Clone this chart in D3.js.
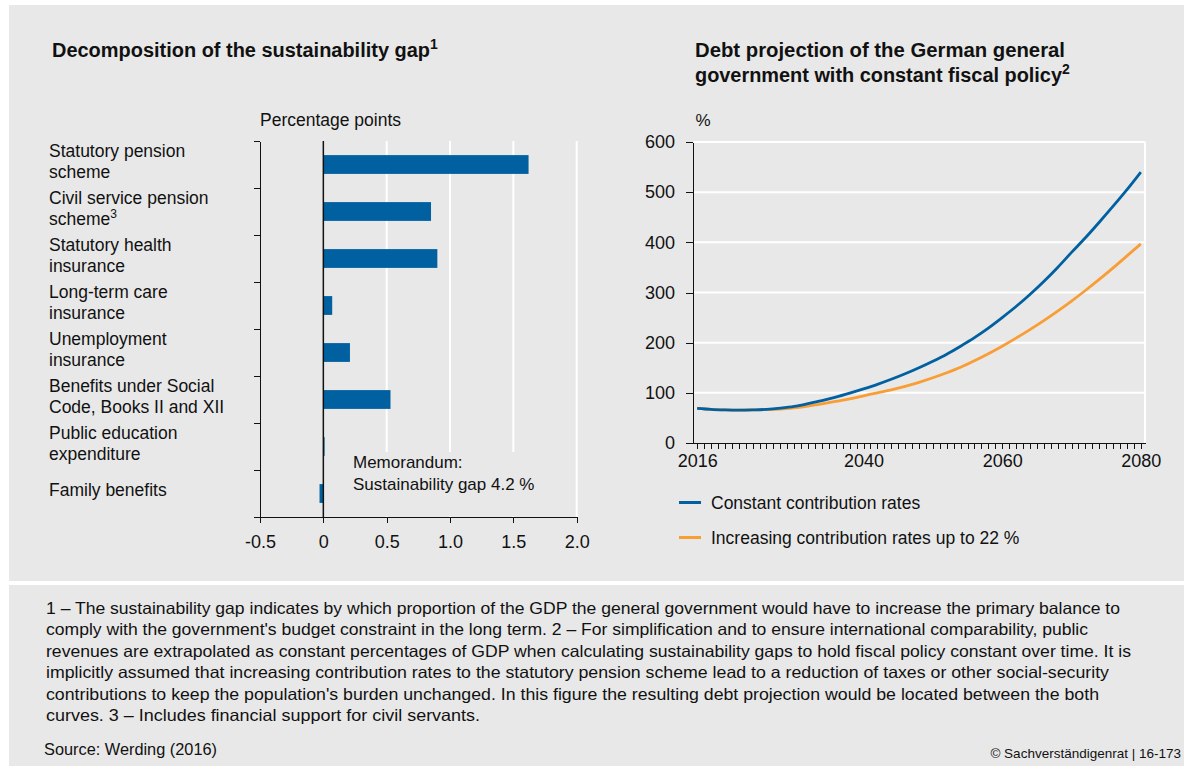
<!DOCTYPE html>
<html>
<head>
<meta charset="utf-8">
<script src="https://cdn.jsdelivr.net/npm/d3@7"></script>
<style>
  body { margin: 0; background: #fff; }
  svg { display: block; font-family: "Liberation Sans", Arial, sans-serif; }
  .axis path, .axis line { stroke: #111; shape-rendering: crispEdges; }
  .axis text { font-size: 18px; fill: #111; font-family: "Liberation Sans", Arial, sans-serif; }
</style>
</head>
<body>
<svg id="vis" width="1184" height="766"></svg>
<script>
// left panel: decomposition of the sustainability gap (percentage points)
var gapCategories = ["Statutory pension scheme", "Civil service pension scheme", "Statutory health insurance",
  "Long-term care insurance", "Unemployment insurance", "Benefits under Social Code, Books II and XII",
  "Public education expenditure", "Family benefits"];
var gapLabelLines = [["Statutory pension", "scheme"], ["Civil service pension", "scheme"], ["Statutory health", "insurance"],
  ["Long-term care", "insurance"], ["Unemployment", "insurance"], ["Benefits under Social", "Code, Books II and XII"],
  ["Public education", "expenditure"], ["Family benefits"]];
var gapLabelNotes = ["", "3", "", "", "", "", "", ""];
var gapValues = [1.62, 0.85, 0.90, 0.07, 0.21, 0.53, 0.01, -0.03];
var gapTicks = [-0.5, 0, 0.5, 1.0, 1.5, 2.0];
var gapTickLabels = ["-0.5", "0", "0.5", "1.0", "1.5", "2.0"];

// right panel: debt projection, % of GDP
var years = [2016, 2018, 2020, 2022, 2024, 2026, 2028, 2030, 2032, 2034, 2036, 2038, 2040, 2042, 2044, 2046,
  2048, 2050, 2052, 2054, 2056, 2058, 2060, 2062, 2064, 2066, 2068, 2070, 2072, 2074, 2076, 2078, 2080];
var debtConstant = [69, 67, 66, 65.5, 66, 67, 69.5, 73, 78.5, 84.5, 91.5, 99.5, 108, 117, 127, 138,
  150, 163, 177, 193, 210, 229, 250, 272, 296, 322, 350, 380, 409, 440, 472, 505, 540];
var debtIncreasing = [69, 67, 66, 65.5, 66, 66.5, 67.5, 70, 73.5, 78, 83, 88, 94, 100, 106, 113,
  121, 130, 140, 151, 164, 178, 193, 209, 226, 244, 263, 283, 304, 326, 349, 373, 397];
var debtTicks = [0, 100, 200, 300, 400, 500, 600];
var yearLabels = [2016, 2040, 2060, 2080];
var seriesNames = ["Constant contribution rates", "Increasing contribution rates up to 22 %"];
var seriesColors = ["#0060a0", "#f99d35"];

var footnotes = [
  "1 \u2013 The sustainability gap indicates by which proportion of the GDP the general government would have to increase the primary balance to",
  "comply with the government's budget constraint in the long term.  2 \u2013 For simplification and to ensure international comparability, public",
  "revenues are extrapolated as constant percentages of GDP when calculating sustainability gaps to hold fiscal policy constant over time. It is",
  "implicitly assumed that increasing contribution rates to the statutory pension scheme lead to a reduction of taxes or other social-security",
  "contributions to keep the population's burden unchanged. In this figure the resulting debt projection would be located between the both",
  "curves.  3 \u2013 Includes financial support for civil servants."
];
var footnoteEnds = [1120, 1088, 1131, 1109, 1099, 480];

var svg = d3.select("#vis");
var ink = "#111";

// panels
svg.append("rect").attr("x", 9).attr("y", 5).attr("width", 1175).attr("height", 576).attr("fill", "#e8e8e8");
svg.append("rect").attr("x", 9).attr("y", 585).attr("width", 1175).attr("height", 181).attr("fill", "#e8e8e8");

function fit(sel, w) {
  sel.attr("textLength", w).attr("lengthAdjust", "spacingAndGlyphs");
}

// titles
var t1 = svg.append("text").attr("x", 52).attr("y", 57).attr("font-size", 20).attr("font-weight", "bold").attr("fill", ink);
t1.append("tspan").text("Decomposition of the sustainability gap").call(fit, 378);
t1.append("tspan").attr("font-size", 14).attr("dy", -8).text("1");

svg.append("text").attr("x", 695).attr("y", 57).attr("font-size", 20).attr("font-weight", "bold").attr("fill", ink)
  .text("Debt projection of the German general").call(fit, 370);
var t2 = svg.append("text").attr("x", 695).attr("y", 82).attr("font-size", 20).attr("font-weight", "bold").attr("fill", ink);
t2.append("tspan").text("government with constant fiscal policy").call(fit, 367);
t2.append("tspan").attr("font-size", 14).attr("dy", -8).text("2");

// ---------- left chart ----------
var x = d3.scaleLinear().domain([-0.5, 2.0]).range([260, 576.7]);
var y = d3.scaleBand().domain(gapCategories).range([141, 517]).paddingInner(0.6).paddingOuter(0.3);
var yIdx = d3.scaleLinear().domain([0, gapCategories.length]).range([141, 517]);
var step = y.step();

svg.append("text").attr("x", 260).attr("y", 126).attr("font-size", 17.5).attr("fill", ink).text("Percentage points");

// gridlines
svg.append("g").selectAll("line")
    .data(gapTicks.filter(function(d) { return d > 0; }))
  .enter().append("line")
    .attr("x1", function(d) { return x(d); }).attr("x2", function(d) { return x(d); })
    .attr("y1", 141).attr("y2", 517)
    .attr("stroke", "#fff").attr("stroke-width", 2);

// memorandum box hides the grid behind the note
svg.append("rect").attr("x", 343).attr("y", 452).attr("width", 222).attr("height", 64).attr("fill", "#e8e8e8");
svg.append("text").attr("x", 353).attr("y", 468).attr("font-size", 17).attr("fill", ink).text("Memorandum:");
svg.append("text").attr("x", 353).attr("y", 490).attr("font-size", 17).attr("fill", ink).text("Sustainability gap 4.2 %");

// bars
svg.append("g").selectAll("rect")
    .data(gapValues)
  .enter().append("rect")
    .attr("x", function(d) { return x(Math.min(0, d)); })
    .attr("y", function(d, i) { return y(gapCategories[i]); })
    .attr("width", function(d) { return Math.abs(x(d) - x(0)); })
    .attr("height", y.bandwidth())
    .attr("fill", seriesColors[0]);

// zero line
svg.append("line").attr("x1", x(0)).attr("x2", x(0)).attr("y1", 141).attr("y2", 517)
  .attr("stroke", ink).attr("stroke-width", 1.5);

// axes
svg.append("g").attr("class", "axis")
    .attr("transform", "translate(" + x(-0.5) + ",0)")
    .call(d3.axisLeft(yIdx).tickValues(d3.range(gapCategories.length + 1)).tickFormat("").tickSizeInner(6).tickSizeOuter(0));

svg.append("g").attr("class", "axis")
    .attr("transform", "translate(0,517)")
    .call(d3.axisBottom(x).tickValues(gapTicks).tickFormat(function(d, i) { return gapTickLabels[i]; })
      .tickSizeInner(6).tickSizeOuter(0).tickPadding(12));

// category labels
var lab = svg.append("g").selectAll("text")
    .data(gapLabelLines)
  .enter().append("text")
    .attr("font-size", 17.5).attr("fill", ink)
    .attr("transform", function(d, i) {
      var c = yIdx(i) + step / 2;
      return "translate(49," + (d.length > 1 ? c - 8 : c + 2.5) + ")";
    });
lab.each(function(lines, i) {
  var t = d3.select(this);
  lines.forEach(function(s, j) {
    t.append("tspan").attr("x", 0).attr("y", j * 21).text(s);
    if (j === lines.length - 1 && gapLabelNotes[i]) {
      t.append("tspan").attr("font-size", 12).attr("dy", -7).text(gapLabelNotes[i]);
    }
  });
});

// ---------- right chart ----------
var xr = d3.scaleLinear().domain([2015.4, 2080.6]).range([693, 1145]);
var yr = d3.scaleLinear().domain([0, 600]).range([443, 142]);

svg.append("g").selectAll("line")
    .data(debtTicks.filter(function(d) { return d > 0; }))
  .enter().append("line")
    .attr("x1", xr(2015.4)).attr("x2", xr(2080.6))
    .attr("y1", function(d) { return yr(d); }).attr("y2", function(d) { return yr(d); })
    .attr("stroke", "#fff").attr("stroke-width", 2);
svg.append("line").attr("x1", xr(2080.6)).attr("x2", xr(2080.6)).attr("y1", yr(600)).attr("y2", yr(0))
  .attr("stroke", "#fff").attr("stroke-width", 2);

svg.append("text").attr("x", 703).attr("y", 126).attr("font-size", 17).attr("text-anchor", "middle").attr("fill", ink).text("%");

svg.append("g").attr("class", "axis")
    .attr("transform", "translate(" + xr(2015.4) + ",0)")
    .call(d3.axisLeft(yr).tickValues(debtTicks).tickFormat(d3.format("d")).tickSizeInner(7).tickSizeOuter(0).tickPadding(11));

svg.append("g").attr("class", "axis")
    .attr("transform", "translate(0," + yr(0) + ")")
    .call(d3.axisBottom(xr).tickValues(d3.range(2016, 2081)).tickFormat(function(d) {
        return yearLabels.indexOf(d) >= 0 ? d : ""; })
      .tickSizeInner(6).tickSizeOuter(0).tickPadding(5));

var line = d3.line()
    .x(function(d) { return xr(d[0]); })
    .y(function(d) { return yr(d[1]); })
    .curve(d3.curveMonotoneX);

[debtIncreasing, debtConstant].forEach(function(vals, k) {
  svg.append("path")
    .datum(d3.zip(years, vals))
    .attr("d", line)
    .attr("fill", "none")
    .attr("stroke", k === 0 ? seriesColors[1] : seriesColors[0])
    .attr("stroke-width", 2.8);
});

// legend
var leg = svg.append("g").selectAll("g")
    .data(seriesNames)
  .enter().append("g")
    .attr("transform", function(d, i) { return "translate(679," + (502.5 + i * 35) + ")"; });
leg.append("line").attr("x1", 0).attr("x2", 22)
    .attr("stroke", function(d, i) { return seriesColors[i]; }).attr("stroke-width", 3);
leg.append("text").attr("x", 32).attr("y", 6).attr("font-size", 17.5).attr("fill", ink)
    .text(function(d) { return d; });

// ---------- footnotes ----------
svg.append("g").selectAll("text")
    .data(footnotes)
  .enter().append("text")
    .attr("x", 46).attr("y", function(d, i) { return 614 + i * 21.4; })
    .attr("font-size", 16.5).attr("fill", ink)
    .attr("textLength", function(d, i) { return footnoteEnds[i] - 46; })
    .attr("lengthAdjust", "spacingAndGlyphs")
    .text(function(d) { return d; });

svg.append("text").attr("x", 44).attr("y", 755).attr("font-size", 16.5).attr("fill", ink)
  .text("Source: Werding (2016)").call(fit, 173);
svg.append("text").attr("x", 1181).attr("y", 758).attr("font-size", 13.5).attr("text-anchor", "end").attr("fill", ink)
  .text("\u00a9 Sachverst\u00e4ndigenrat | 16-173");
</script>
</body>
</html>
